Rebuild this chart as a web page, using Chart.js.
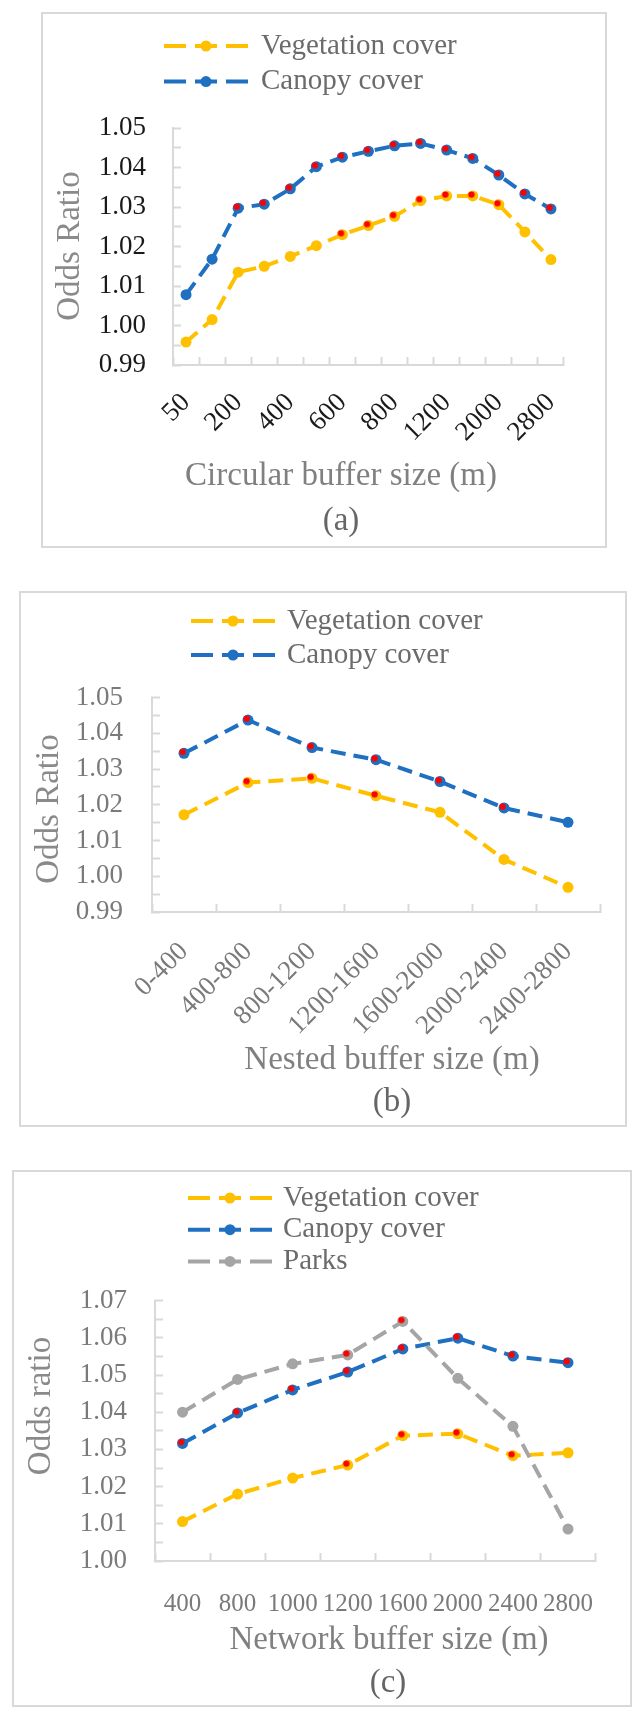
<!DOCTYPE html>
<html>
<head>
<meta charset="utf-8">
<script src="https://cdn.jsdelivr.net/npm/chart.js@4"></script>
<style>
body { margin:0; background:#fff; width:644px; height:1717px; position:relative; }
.panel { position:absolute; border:2px solid #d9d9d9; box-sizing:border-box; }
.panel canvas { display:block; }
</style>
</head>
<body>
<div class="panel" style="left:41px;top:12px;width:566px;height:536px"><canvas id="circular" width="562" height="532"></canvas></div>
<div class="panel" style="left:19px;top:591px;width:608px;height:536px"><canvas id="nested" width="604" height="532"></canvas></div>
<div class="panel" style="left:12px;top:1170px;width:620px;height:537px"><canvas id="network" width="616" height="533"></canvas></div>
<script>
// (a) circular buffers
const circularSizes = ['50', '100', '200', '300', '400', '500', '600', '700', '800', '1000', '1200', '1600', '2000', '2400', '2800'];
const circularVeg = [0.9958, 1.0015, 1.0135, 1.0150, 1.0175, 1.0202, 1.0230, 1.0253, 1.0276, 1.0316, 1.0328, 1.0328, 1.0306, 1.0237, 1.0167];
const circularCanopy = [1.0078, 1.0168, 1.0297, 1.0307, 1.0346, 1.0402, 1.0426, 1.0441, 1.0455, 1.0461, 1.0444, 1.0423, 1.0381, 1.0333, 1.0295];
const circularVegSig = [0, 0, 0, 0, 0, 0, 1, 1, 1, 1, 1, 1, 1, 0, 0];
const circularCanopySig = [0, 0, 1, 1, 1, 1, 1, 1, 1, 1, 1, 1, 1, 1, 1];

// (b) nested buffers
const nestedSizes = ['0-400', '400-800', '800-1200', '1200-1600', '1600-2000', '2000-2400', '2400-2800'];
const nestedVeg = [1.0172, 1.0262, 1.0274, 1.0225, 1.0179, 1.0047, 0.9969];
const nestedCanopy = [1.0344, 1.0437, 1.0360, 1.0326, 1.0265, 1.0191, 1.0151];
const nestedVegSig = [0, 1, 1, 1, 0, 0, 0];
const nestedCanopySig = [1, 1, 1, 1, 1, 1, 0];

// (c) network buffers
const networkSizes = ['400', '800', '1000', '1200', '1600', '2000', '2400', '2800'];
const networkVeg = [1.0106, 1.0180, 1.0223, 1.0258, 1.0337, 1.0342, 1.0283, 1.0291];
const networkCanopy = [1.0316, 1.0398, 1.0460, 1.0508, 1.0570, 1.0599, 1.0551, 1.0533];
const networkParks = [1.0400, 1.0488, 1.0530, 1.0554, 1.0644, 1.0491, 1.0362, 1.0086];
const networkVegSig = [0, 0, 0, 1, 1, 1, 1, 0];
const networkCanopySig = [1, 1, 1, 1, 1, 1, 1, 1];
const networkParksSig = [0, 0, 0, 1, 1, 0, 0, 0];

const SERIF = '"Liberation Serif", "DejaVu Serif", serif';
const YELLOW = '#FFC000', BLUE = '#1f70c1', GRAY = '#a5a5a5';
const AXIS = '#d9d9d9';

// small red dot, a bit up-left of the marker centre
const dot = document.createElement('canvas');
dot.width = 14; dot.height = 14;
(function () {
    const g = dot.getContext('2d');
    g.fillStyle = '#ff0000';
    g.beginPath(); g.arc(5.6, 5.6, 3.2, 0, Math.PI * 2); g.fill();
})();

function lineSet(label, values, color, order) {
    return {
        label: label, data: values, order: order,
        borderColor: color, backgroundColor: color, borderWidth: 4, borderDash: [15, 8],
        pointRadius: 5.5, pointHoverRadius: 5.5, pointBorderWidth: 0, pointBackgroundColor: color
    };
}
function sigSet(values, flags) {
    return {
        label: '', sig: true, order: 0, showLine: false,
        data: values.map((v, i) => flags[i] ? v : null),
        pointStyle: dot, pointRadius: 5
    };
}

const excelLegend = {
    id: 'excelLegend',
    afterDraw(chart, args, o) {
        const ctx = chart.ctx;
        let row = 0;
        chart.data.datasets.forEach(ds => {
            if (ds.sig) return;
            const y = o.top + row * o.rowGap;
            ctx.save();
            ctx.strokeStyle = ds.borderColor;
            ctx.lineWidth = ds.borderWidth;
            ctx.setLineDash([22, 9]);
            ctx.beginPath(); ctx.moveTo(o.x0, y); ctx.lineTo(o.x0 + 84, y); ctx.stroke();
            ctx.setLineDash([]);
            ctx.fillStyle = ds.borderColor;
            ctx.beginPath(); ctx.arc(o.x0 + 42, y, ds.pointRadius, 0, Math.PI * 2); ctx.fill();
            ctx.font = '29px ' + SERIF;
            ctx.fillStyle = '#6b6b6b';
            ctx.textAlign = 'left'; ctx.textBaseline = 'middle';
            ctx.fillText(ds.label, o.textX, y);
            ctx.restore();
            row++;
        });
    }
};

const panelText = {
    id: 'panelText',
    afterDraw(chart, args, o) {
        const ctx = chart.ctx;
        (o.items || []).forEach(t => {
            ctx.save();
            ctx.translate(t.x, t.y);
            if (t.rotate) ctx.rotate(t.rotate);
            ctx.font = t.size + 'px ' + SERIF;
            ctx.fillStyle = t.color;
            ctx.textAlign = 'center'; ctx.textBaseline = 'middle';
            ctx.fillText(t.text, 0, 0);
            ctx.restore();
        });
    }
};

function yScale(min, max, width, pad, color) {
    return {
        min: min, max: max,
        afterFit: s => { s.width = width; },
        border: { display: true, color: AXIS, width: 2 },
        grid: { drawOnChartArea: false, drawTicks: true, tickLength: -8, tickColor: AXIS, tickWidth: 2 },
        ticks: {
            stepSize: 0.005, autoSkip: false, padding: pad, color: color,
            font: { family: SERIF, size: 27 },
            callback: v => Math.round(v * 1000) % 10 === 0 ? v.toFixed(2) : ''
        }
    };
}
function xScale(labels, height, pad, rotation, color, every, size) {
    return {
        type: 'category', offset: true,
        afterFit: s => { s.height = height; },
        border: { display: true, color: AXIS, width: 2 },
        grid: { offset: true, drawOnChartArea: false, drawTicks: true, tickLength: -8, tickColor: AXIS, tickWidth: 2 },
        ticks: {
            autoSkip: false, minRotation: rotation, maxRotation: rotation, padding: pad, color: color,
            font: { family: SERIF, size: size },
            callback: (v, i) => i % every === 0 ? labels[i] : ''
        }
    };
}

function makeChart(id, cfg) {
    return new Chart(document.getElementById(id), {
        type: 'line',
        data: { labels: cfg.labels, datasets: cfg.datasets },
        options: {
            responsive: false, animation: false,
            layout: { padding: { top: cfg.top, right: cfg.right, left: 0, bottom: 0 } },
            plugins: {
                legend: { display: false }, tooltip: { enabled: false },
                excelLegend: cfg.legend,
                panelText: { items: cfg.texts }
            },
            scales: { x: cfg.x, y: cfg.y }
        },
        plugins: [excelLegend, panelText]
    });
}

makeChart('circular', {
    labels: circularSizes,
    datasets: [
        lineSet('Vegetation cover', circularVeg, YELLOW, 2),
        lineSet('Canopy cover', circularCanopy, BLUE, 1),
        sigSet(circularVeg, circularVegSig),
        sigSet(circularCanopy, circularCanopySig)
    ],
    top: 114, right: 34,
    x: xScale(circularSizes, 181, 30, 45, '#1a1a1a', 2, 27),
    y: yScale(0.99, 1.05, 130, 35, '#1a1a1a'),
    legend: { top: 32, rowGap: 35.6, x0: 121, textX: 218 },
    texts: [
        { text: 'Odds Ratio', x: 27, y: 232, size: 33, color: '#8a8a8a', rotate: -Math.PI / 2 },
        { text: 'Circular buffer size (m)', x: 298, y: 462, size: 33, color: '#808080' },
        { text: '(a)', x: 298, y: 507, size: 33, color: '#666666' }
    ]
});

makeChart('nested', {
    labels: nestedSizes,
    datasets: [
        lineSet('Vegetation cover', nestedVeg, YELLOW, 2),
        lineSet('Canopy cover', nestedCanopy, BLUE, 1),
        sigSet(nestedVeg, nestedVegSig),
        sigSet(nestedCanopy, nestedCanopySig)
    ],
    top: 104.5, right: 25,
    x: xScale(nestedSizes, 213, 32, 45, '#7a7a7a', 1, 27),
    y: yScale(0.99, 1.05, 131, 37, '#7a7a7a'),
    legend: { top: 28, rowGap: 34, x0: 170, textX: 266 },
    texts: [
        { text: 'Odds Ratio', x: 28, y: 216, size: 33, color: '#8a8a8a', rotate: -Math.PI / 2 },
        { text: 'Nested buffer size (m)', x: 371, y: 467, size: 33, color: '#808080' },
        { text: '(b)', x: 371, y: 509, size: 33, color: '#666666' }
    ]
});

makeChart('network', {
    labels: networkSizes,
    datasets: [
        lineSet('Vegetation cover', networkVeg, YELLOW, 3),
        lineSet('Canopy cover', networkCanopy, BLUE, 2),
        lineSet('Parks', networkParks, GRAY, 1),
        sigSet(networkVeg, networkVegSig),
        sigSet(networkCanopy, networkCanopySig),
        sigSet(networkParks, networkParksSig)
    ],
    top: 128.6, right: 16,
    x: xScale(networkSizes, 144, 36, 0, '#7a7a7a', 1, 25),
    y: yScale(1.00, 1.07, 141, 36, '#7a7a7a'),
    legend: { top: 26, rowGap: 31.7, x0: 174, textX: 269 },
    texts: [
        { text: 'Odds ratio', x: 27, y: 234, size: 33, color: '#8a8a8a', rotate: -Math.PI / 2 },
        { text: 'Network buffer size (m)', x: 375, y: 468, size: 33, color: '#808080' },
        { text: '(c)', x: 374, y: 511, size: 33, color: '#666666' }
    ]
});
</script>
</body>
</html>
